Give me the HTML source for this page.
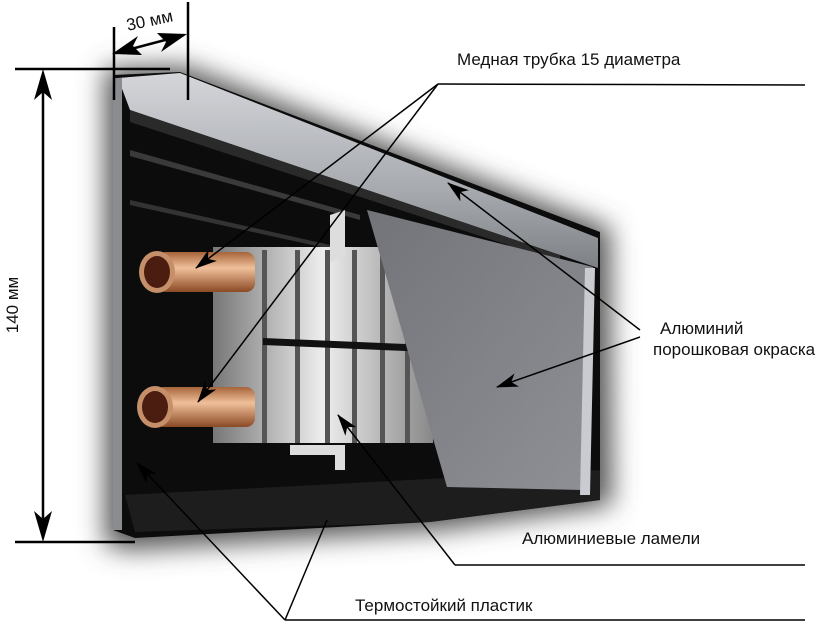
<!DOCTYPE html>
<html><head><meta charset="utf-8"><style>
html,body{margin:0;padding:0;background:#fff}
svg{display:block}
text{font-family:"Liberation Sans","DejaVu Sans",sans-serif;font-size:17px;fill:#111}
</style></head><body>
<svg width="830" height="631" viewBox="0 0 830 631" xmlns="http://www.w3.org/2000/svg">
<defs>
<filter id="glow" x="-30%" y="-30%" width="160%" height="160%"><feGaussianBlur stdDeviation="13"/></filter>
<linearGradient id="rail" x1="0" y1="0" x2="0" y2="1"><stop offset="0" stop-color="#d4d6da"/><stop offset="0.6" stop-color="#a7aaaf"/><stop offset="1" stop-color="#7d8085"/></linearGradient>
<linearGradient id="panel" x1="0" y1="0" x2="1" y2="1"><stop offset="0" stop-color="#727479"/><stop offset="1" stop-color="#8e9095"/></linearGradient>
<linearGradient id="cu" x1="0" y1="0" x2="0" y2="1"><stop offset="0" stop-color="#a6643a"/><stop offset="0.4" stop-color="#f0c09a"/><stop offset="1" stop-color="#8a4a25"/></linearGradient>
<linearGradient id="fin" x1="0" y1="0" x2="1" y2="0"><stop offset="0" stop-color="#777"/><stop offset="0.5" stop-color="#eee"/><stop offset="1" stop-color="#888"/></linearGradient>
<marker id="ah2" markerWidth="22" markerHeight="14" refX="21" refY="7" orient="auto" markerUnits="userSpaceOnUse"><path d="M0,0 L22,7 L0,14 L6,7z" fill="#000"/></marker>
</defs>
<!-- glow -->
<path d="M105,68 L185,66 L610,228 L612,505 L440,530 L130,550 L105,545z" fill="#555" filter="url(#glow)"/>
<!-- body -->
<path d="M113,75 L180,72 L600,232 L600,500 L430,522 L135,538 L113,530z" fill="#0c0c0c"/>
<!-- top rail -->
<path d="M118,78 L180,73 L598,238 L598,268 L560,255 L130,110z" fill="url(#rail)"/>
<path d="M130,110 L560,255 L560,262 L130,122z" fill="#2a2a2a"/>
<path d="M113,78 L122,78 L122,530 L113,530z" fill="#8a8c90"/>
<path d="M130,150 L360,215 L360,220 L130,156z" fill="#3a3a3a"/>
<path d="M130,200 L330,245 L330,249 L130,205z" fill="#333"/>
<!-- bottom rail -->
<path d="M125,495 L600,470 L600,500 L430,522 L135,532z" fill="#1d1d1d"/>
<!-- fins -->
<rect x="213" y="247" width="220" height="196" fill="url(#fin)"/>
<g fill="#555"><rect x="262" y="250" width="5" height="193"/><rect x="295" y="250" width="5" height="193"/><rect x="325" y="250" width="5" height="193"/><rect x="352" y="250" width="5" height="193"/><rect x="380" y="250" width="5" height="193"/><rect x="405" y="250" width="5" height="193"/></g>
<path d="M263,338 L430,345 L430,352 L263,345z" fill="#111"/>
<!-- brackets -->
<path d="M290,445 L345,445 L345,470 L335,470 L335,455 L290,455z" fill="#ddd"/>
<path d="M330,215 L345,210 L345,255 L330,262z" fill="#ddd"/>
<!-- pipes -->
<rect x="157" y="252" width="98" height="40" rx="9" fill="url(#cu)"/>
<ellipse cx="157" cy="272" rx="18" ry="21" fill="#c58f6a"/><ellipse cx="157" cy="272" rx="13" ry="16" fill="#4a1d10"/>
<rect x="155" y="387" width="100" height="40" rx="9" fill="url(#cu)"/>
<ellipse cx="155" cy="407" rx="18" ry="21" fill="#c58f6a"/><ellipse cx="155" cy="407" rx="13" ry="16" fill="#4a1d10"/>
<!-- front panel -->
<path d="M367,210 L593,267 L583,490 L447,487z" fill="url(#panel)"/>
<path d="M585,268 L595,268 L590,495 L580,495z" fill="#c9cbd0"/>
<!-- dimensions -->
<g stroke="#000" stroke-width="2.5" fill="none">
<line x1="15" y1="69" x2="170" y2="69"/>
<line x1="15" y1="542" x2="135" y2="542"/>
<line x1="114" y1="27" x2="114" y2="100"/>
<line x1="188" y1="2" x2="188" y2="100"/>
</g>
<line x1="43" y1="85" x2="43" y2="528" stroke="#000" stroke-width="2.5"/>
<path d="M43,69 L52,100 L43,92 L34,100z M43,542 L52,511 L43,519 L34,511z" fill="#000"/>
<line x1="116" y1="53" x2="184" y2="35" stroke="#000" stroke-width="2.5"/>
<path d="M112,54 L138,36 L133,46 L142,55z M187,34 L161,52 L166,42 L157,33z" fill="#000"/>
<text x="126" y="26" transform="rotate(-12 150 20)" font-size="16">30 мм</text>
<text transform="translate(18,305) rotate(-90)" text-anchor="middle" font-size="16">140 мм</text>
<!-- leaders -->
<g stroke="#000" stroke-width="1.5" fill="none">
<line x1="438" y1="84" x2="805" y2="85"/>
<line x1="438" y1="84" x2="196" y2="268" marker-end="url(#ah2)"/>
<line x1="438" y1="84" x2="198" y2="402" marker-end="url(#ah2)"/>
<line x1="640" y1="330" x2="448" y2="183" marker-end="url(#ah2)"/>
<line x1="640" y1="337" x2="497" y2="387" marker-end="url(#ah2)"/>
<line x1="455" y1="565" x2="805" y2="565"/>
<line x1="455" y1="565" x2="338" y2="415" marker-end="url(#ah2)"/>
<line x1="285" y1="620" x2="805" y2="620"/>
<line x1="285" y1="620" x2="137" y2="463" marker-end="url(#ah2)"/>
<line x1="285" y1="620" x2="327" y2="520"/>
</g>
<text x="457" y="65">Медная трубка 15 диаметра</text>
<text x="660" y="334">Алюминий</text>
<text x="653" y="355">порошковая окраска</text>
<text x="522" y="544">Алюминиевые ламели</text>
<text x="355" y="611">Термостойкий пластик</text>
</svg>
</body></html>
